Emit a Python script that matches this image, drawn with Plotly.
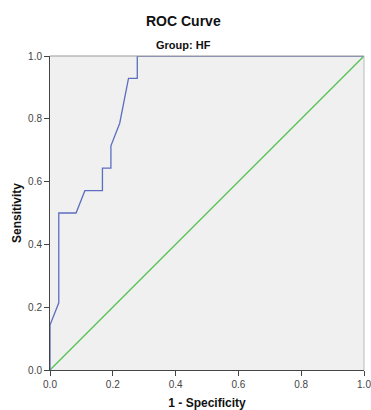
import plotly.graph_objects as go

# ROC curve points (1 - Specificity, Sensitivity)
fpr = [0.0, 0.0, 0.028, 0.028, 0.083, 0.111, 0.167, 0.167, 0.194, 0.194, 0.222, 0.25, 0.278, 0.278, 1.0]
tpr = [0.0, 0.143, 0.214, 0.5, 0.5, 0.571, 0.571, 0.643, 0.643, 0.714, 0.786, 0.929, 0.929, 1.0, 1.0]
ref_x = [0.0, 1.0]
ref_y = [0.0, 1.0]
tick_vals = [0.0, 0.2, 0.4, 0.6, 0.8, 1.0]
tick_text = ["0.0", "0.2", "0.4", "0.6", "0.8", "1.0"]

fig = go.Figure()
fig.add_trace(go.Scatter(x=ref_x, y=ref_y, mode="lines",
                         line=dict(color="#52c352", width=1.3), hoverinfo="skip"))
fig.add_trace(go.Scatter(x=fpr, y=tpr, mode="lines",
                         line=dict(color="#5b6fbe", width=1.3)))

fig.update_layout(
    width=371, height=410,
    margin=dict(l=50, r=7, t=56, b=40),
    paper_bgcolor="white", plot_bgcolor="#f0f0f0",
    showlegend=False,
    font=dict(family="Liberation Sans, Arial, sans-serif", color="#222"),
)
fig.update_xaxes(range=[0, 1], tickvals=tick_vals, ticktext=tick_text, automargin=False,
                 showgrid=False, zeroline=False, showline=True, linecolor="#444", linewidth=1,
                 ticks="outside", ticklen=5, tickcolor="#444", ticklabeloverflow="allow",
                 tickfont=dict(size=10, color="#444"),
                 title=dict(text="<b>1 - Specificity</b>", font=dict(size=12, color="#111"), standoff=11))
fig.update_yaxes(range=[0, 1], tickvals=tick_vals, ticktext=tick_text, automargin=False,
                 showgrid=False, zeroline=False, showline=True, linecolor="#444", linewidth=1,
                 ticks="outside", ticklen=5, tickcolor="#444",
                 tickfont=dict(size=10, color="#444"),
                 title=dict(text="<b>Sensitivity</b>", font=dict(size=12, color="#111"), standoff=3))
# top and right frame lines
fig.add_shape(type="line", xref="paper", yref="paper", x0=0, x1=1, y0=1, y1=1,
              line=dict(color="#999", width=1))
fig.add_shape(type="line", xref="paper", yref="paper", x0=1, x1=1, y0=0, y1=1,
              line=dict(color="#bbb", width=1))
cx = (183.5 - 50) / 314
fig.add_annotation(text="<b>ROC Curve</b>", xref="paper", yref="paper",
                   x=cx, y=1, yshift=35, xanchor="center", yanchor="middle", showarrow=False,
                   font=dict(size=14, color="#111"))
fig.add_annotation(text="<b>Group: HF</b>", xref="paper", yref="paper",
                   x=cx, y=1, yshift=11, xanchor="center", yanchor="middle", showarrow=False,
                   font=dict(size=11, color="#111"))
fig.write_html("out.html", config={"displayModeBar": False},
               post_script="document.body.style.margin='0';document.body.style.overflow='hidden';")
